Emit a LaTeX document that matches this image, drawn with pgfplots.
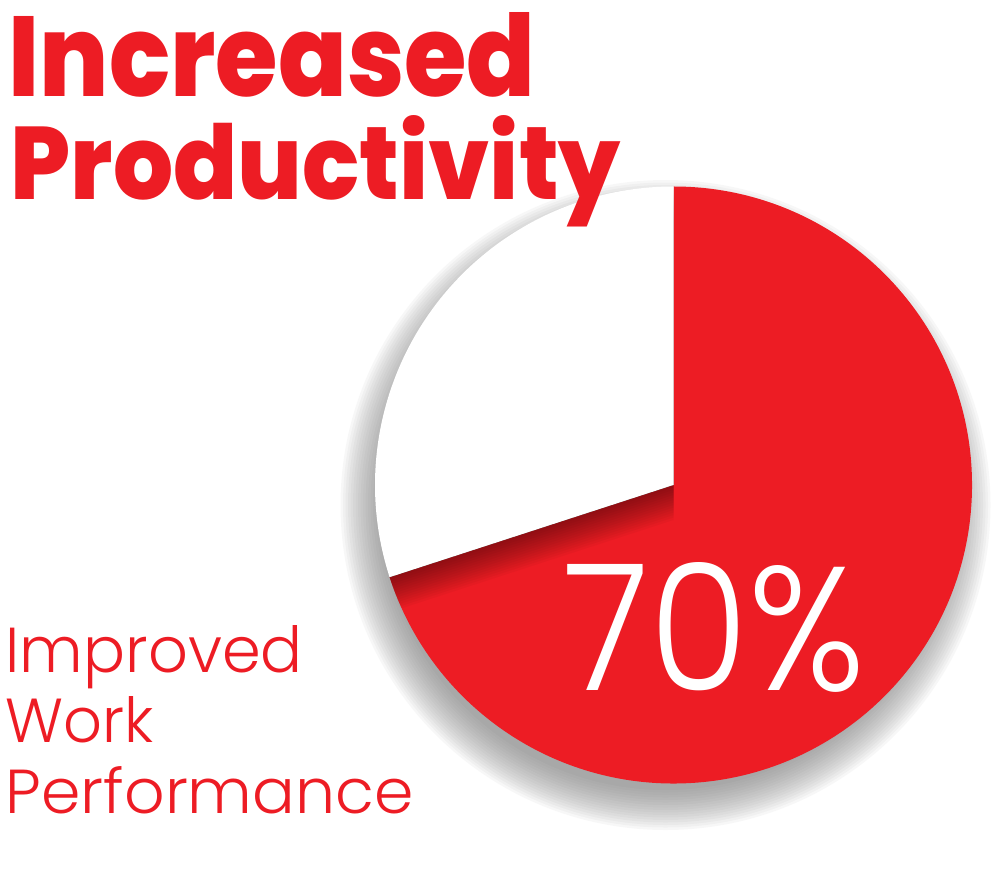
\documentclass[border=0pt]{standalone}
\usepackage{graphicx}
\usepackage{pgfplots}
\pgfplotsset{compat=1.18}
\usepackage{pgfplotstable}
\usepackage{fontspec}
\setmainfont{Poppins}
\newfontfamily\titlefont{Poppins ExtraBold}
\newfontfamily\lightfont{Poppins Light}
\definecolor{pred}{RGB}{237,28,36}

\pgfplotstableread{
label value
Improved 70
Other 30
}\piedata

\begin{document}
\begin{tikzpicture}
\pgfplotstablegetelem{0}{value}\of\piedata
\pgfmathsetmacro\angEnd{90-3.6*\pgfplotsretval}
\pgfmathsetmacro\angW{\angEnd+360}
\def\cx{6.735}
\def\cy{3.86}
\def\R{2.985}
\begin{axis}[x=1cm, y=1cm, xmin=0, xmax=10, ymin=0, ymax=8.71,
  hide axis, clip=false]
% outer soft shadow
\pgfplotsinvokeforeach{0,...,16}{
  \fill[black!55, opacity=0.055] (axis cs:6.655,3.66) circle[radius={2.85+#1*0.025}];
}
% red slice (70%)
\fill[pred] (axis cs:\cx,\cy) -- (axis cs:\cx,{\cy+\R})
  arc[start angle=90, end angle=\angEnd, radius=\R] -- cycle;
% white slice (30%)
\fill[white] (axis cs:\cx,\cy) -- (axis cs:\cx,{\cy+\R})
  arc[start angle=90, end angle=\angW, radius=\R] -- cycle;
% shadow of white slice on red slice
\begin{scope}
\clip (axis cs:\cx,\cy) -- (axis cs:\cx,{\cy+\R})
  arc[start angle=90, end angle=\angEnd, radius=\R] -- cycle;
\pgfplotsinvokeforeach{1,...,14}{
  \fill[black, opacity=0.03] (axis cs:\cx,{\cy-#1*0.025}) -- (axis cs:\cx,{\cy+\R-#1*0.025})
    arc[start angle=90, end angle=\angW, radius=\R] -- cycle;
}
\end{scope}
% texts
\node[anchor=base west, inner sep=0, text=pred] at (axis cs:0.08,7.74)
  {\resizebox{5.27cm}{0.84cm}{\titlefont Increased}};
\node[anchor=base west, inner sep=0, text=pred] at (axis cs:0.10,6.71)
  {\resizebox{6.10cm}{0.84cm}{\titlefont Productivity}};
\node[anchor=base west, inner sep=0, text=pred] at (axis cs:0.05,1.99)
  {\resizebox{2.97cm}{0.47cm}{\lightfont Improved}};
\node[anchor=base west, inner sep=0, text=pred] at (axis cs:0.05,1.29)
  {\resizebox{1.48cm}{0.46cm}{\lightfont Work}};
\node[anchor=base west, inner sep=0, text=pred] at (axis cs:0.05,0.58)
  {\resizebox{4.08cm}{0.47cm}{\lightfont Performance}};
\node[anchor=base west, inner sep=0, text=white] at (axis cs:5.63,1.81)
  {\resizebox{3.02cm}{1.28cm}{\lightfont 70\%}};
\end{axis}
\pgfresetboundingbox
\path (current axis.south west) rectangle (current axis.north east);
\end{tikzpicture}
\end{document}
